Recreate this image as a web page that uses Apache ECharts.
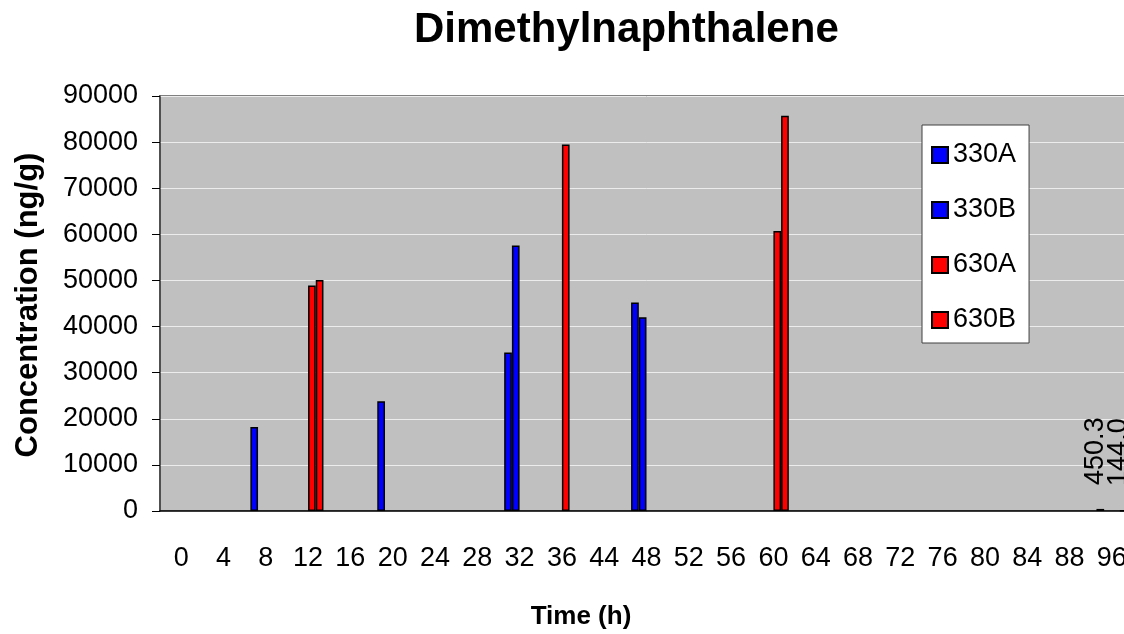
<!DOCTYPE html>
<html>
<head>
<meta charset="utf-8">
<title>Dimethylnaphthalene</title>
<script src="https://cdn.jsdelivr.net/npm/echarts@6/dist/echarts.min.js"></script>
<style>
    html, body { margin: 0; padding: 0; background: #fff; overflow: hidden; }
    /* 图表右侧在原图中被裁掉, 容器比窗口略宽 */
    #bar { width: 1133px; height: 634px; }
</style>
</head>
<body>
<div id="bar"></div>
<script>
// x轴 时间 (h)
var hours = ['0','4','8','12','16','20','24','28','32','36','44','48','52','56','60','64','68','72','76','80','84','88','96'];
var yTicks = [0, 10000, 20000, 30000, 40000, 50000, 60000, 70000, 80000, 90000];
// 各组浓度 (ng/g), null = 无数据
var s330A = [null,null,18200,null,null,23800,null,null,34400,null,null,45200,null,null,null,null,null,null,null,null,null,null,450.3];
var s330B = [null,null,null,null,null,null,null,null,57600,null,null,42000,null,null,null,null,null,null,null,null,null,null,null];
var s630A = [null,null,null,48900,null,null,null,null,null,79500,null,null,null,null,60700,null,null,null,null,null,null,null,null];
var s630B = [null,null,null,50100,null,null,null,null,null,null,null,null,null,null,85700,null,null,null,null,null,null,null,144.0];
var labeledHour = '96';

var dmnChart = {
    font : '"Liberation Sans", Arial, sans-serif'
    ,init : function() {
        var myChart = echarts.init(document.getElementById('bar'));
        myChart.setOption(dmnChart.funcs.buildOption());
    }
    ,funcs : {
        makeSeries : function(name, color, data) {
            return {
                name : name,
                type : 'bar',
                data : data,
                barWidth : 7.7,
                barGap : '0%',
                itemStyle : { color : color, borderColor : '#000', borderWidth : 1.5 },
                label : {
                    show : true,
                    position : 'top',
                    rotate : 90,
                    align : 'left',
                    verticalAlign : 'middle',
                    distance : 24,
                    offset : [0, -5],
                    fontSize : 27,
                    color : '#000',
                    fontFamily : dmnChart.font,
                    formatter : function(p) {
                        return p.name === labeledHour && p.value != null ? p.value.toFixed(1) : '';
                    }
                }
            };
        }
        ,buildOption : function() {
            var f = dmnChart.font;
            return {
                animation : false,
                title : {
                    text : 'Dimethylnaphthalene',
                    left : 409,
                    top : 4,
                    textStyle : { fontSize : 42, fontWeight : 'bold', color : '#000', fontFamily : f }
                },
                legend : {
                    orient : 'vertical',
                    left : 922,
                    top : 125,
                    backgroundColor : '#fff',
                    borderColor : '#404040',
                    borderWidth : 1,
                    padding : [15, 13, 8, 9],
                    itemGap : 25,
                    itemWidth : 16,
                    itemHeight : 16,
                    itemTextGap : 12,
                    icon : 'rect',
                    textStyle : { fontSize : 27, lineHeight : 30, color : '#000', fontFamily : f },
                    data : ['330A', '330B', '630A', '630B']
                },
                grid : {
                    left : 160,
                    top : 96,
                    bottom : 123,
                    right : 0,
                    show : true,
                    backgroundColor : '#c0c0c0',
                    borderColor : '#808080',
                    borderWidth : 2
                },
                xAxis : {
                    type : 'category',
                    data : hours,
                    axisLine : { lineStyle : { color : '#000', width : 1.5 } },
                    axisTick : { length : 7, lineStyle : { color : '#000' } },
                    axisLabel : { interval : 0, margin : 34, fontSize : 27, color : '#000', fontFamily : f }
                },
                yAxis : {
                    type : 'value',
                    min : yTicks[0],
                    max : yTicks[yTicks.length - 1],
                    interval : yTicks[1] - yTicks[0],
                    axisLine : { show : true, lineStyle : { color : '#404040', width : 1.5 } },
                    axisTick : { show : true, length : 8, lineStyle : { color : '#000' } },
                    axisLabel : {
                        margin : 22, fontSize : 27, color : '#000', fontFamily : f,
                        formatter : function(v) { return String(v); }
                    },
                    splitLine : { lineStyle : { color : '#ececec', width : 1 } }
                },
                graphic : [
                    {
                        type : 'text',
                        x : 28, y : 305,
                        rotation : Math.PI / 2,
                        style : {
                            text : 'Concentration (ng/g)',
                            font : 'bold 31px ' + f,
                            fill : '#000',
                            align : 'center',
                            verticalAlign : 'middle'
                        }
                    },
                    {
                        type : 'text',
                        x : 581, y : 617,
                        style : {
                            text : 'Time (h)',
                            font : 'bold 26px ' + f,
                            fill : '#000',
                            align : 'center',
                            verticalAlign : 'middle'
                        }
                    }
                ],
                series : [
                    dmnChart.funcs.makeSeries('330A', '#0000ff', s330A),
                    dmnChart.funcs.makeSeries('330B', '#0000ff', s330B),
                    dmnChart.funcs.makeSeries('630A', '#ff0000', s630A),
                    dmnChart.funcs.makeSeries('630B', '#ff0000', s630B)
                ]
            };
        }
    }
};
dmnChart.init();
</script>
</body>
</html>
